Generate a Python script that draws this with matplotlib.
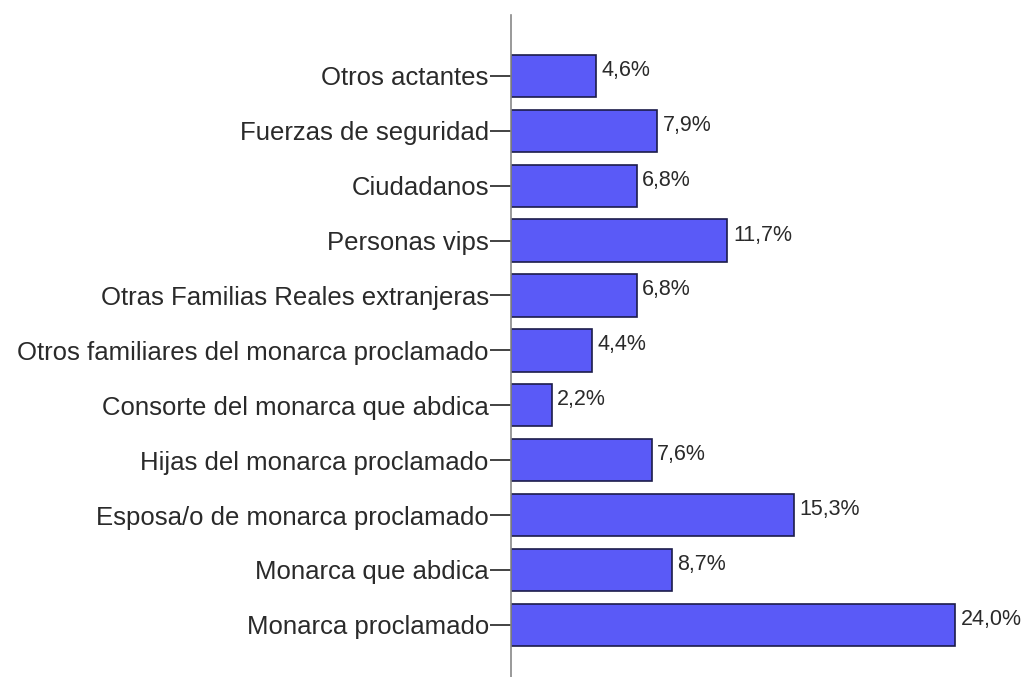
import matplotlib
matplotlib.use("Agg")
import matplotlib.pyplot as plt

# categorias de abajo hacia arriba
categorias = [
    "Monarca proclamado",
    "Monarca que abdica",
    "Esposa/o de monarca proclamado",
    "Hijas del monarca proclamado",
    "Consorte del monarca que abdica",
    "Otros familiares del monarca proclamado",
    "Otras Familias Reales extranjeras",
    "Personas vips",
    "Ciudadanos",
    "Fuerzas de seguridad",
    "Otros actantes",
]
porcentajes = [24.0, 8.7, 15.3, 7.6, 2.2, 4.4, 6.8, 11.7, 6.8, 7.9, 4.6]

plt.rcParams['font.family'] = ['Liberation Sans', 'DejaVu Sans']

fig = plt.figure(figsize=(10.31, 6.77), dpi=100)
ax = fig.add_axes([511 / 1031, 0.0, 1 - 511 / 1031, 1 - 15 / 677])

pos = list(range(len(categorias)))
ax.barh(pos, porcentajes, height=0.77, color="#5a5af7",
        edgecolor="#1c1c4a", linewidth=1.2)

for y, v in zip(pos, porcentajes):
    txt = f"{v:.1f}%".replace(".", ",")
    ax.annotate(txt, (v, y), xytext=(4, 4), textcoords="offset points",
                va="center", ha="left", fontsize=15.5, color="#2a2a2a")

ax.set_yticks(pos)
ax.set_yticklabels(categorias, fontsize=18.5, color="#2a2a2a")
ax.set_xticks([])
ax.set_xlim(0, (1031 - 511) / 18.5)
ax.set_ylim(-0.95, 11.11)

ax.tick_params(axis="y", length=15, width=1.2, pad=1, color="#222222")
for s in ["top", "right", "bottom"]:
    ax.spines[s].set_visible(False)
ax.spines["left"].set_color("#888888")
ax.spines["left"].set_linewidth(1.2)

fig.savefig("out.png", dpi=100, facecolor="white")
